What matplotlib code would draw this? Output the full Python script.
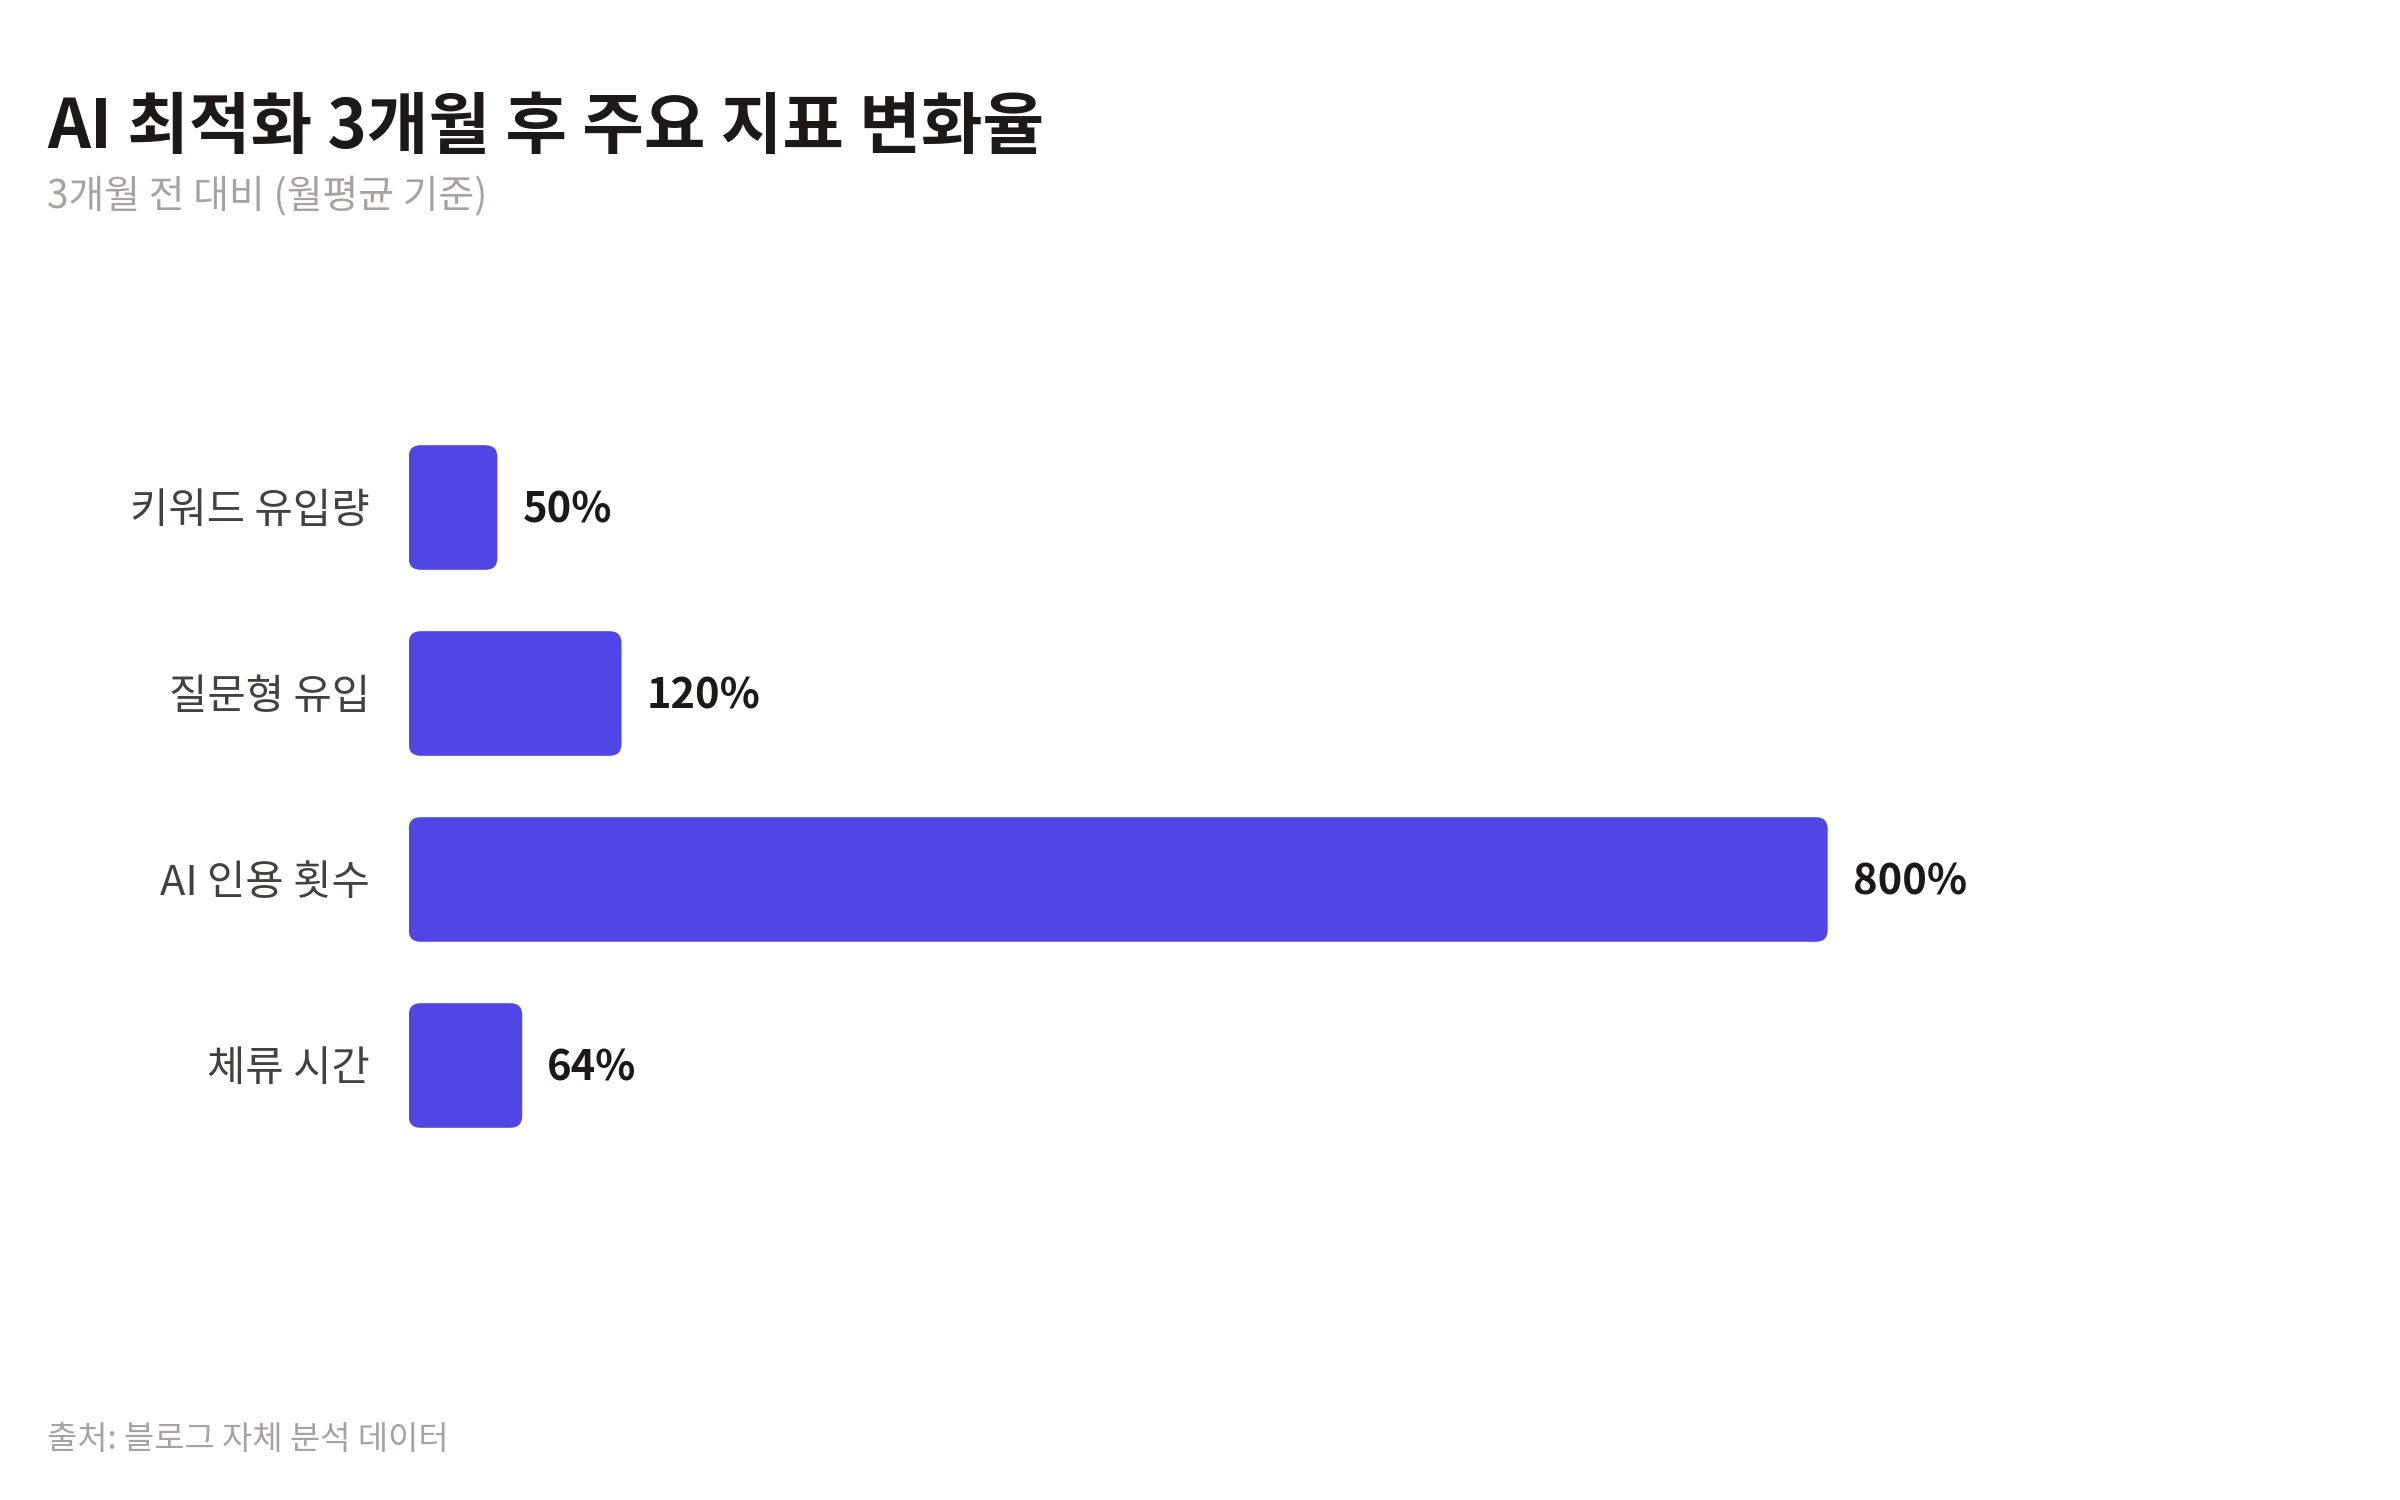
import matplotlib
matplotlib.use('Agg')
import matplotlib.pyplot as plt
from matplotlib.patches import FancyBboxPatch

plt.rcParams['font.family'] = ['Noto Sans CJK KR', 'DejaVu Sans']

# data
categories = ['키워드 유입량', '질문형 유입', 'AI 인용 횟수', '체류 시간']
values = [50, 120, 800, 64]
value_labels = ['50%', '120%', '800%', '64%']

title = 'AI 최적화 3개월 후 주요 지표 변화율'
subtitle = '3개월 전 대비 (월평균 기준)'
source = '출처: 블로그 자체 분석 데이터'

bar_color = '#4F46E5'
dark = '#1c1917'
label_color = '#44403c'
muted = '#a8a29e'

fig = plt.figure(figsize=(24, 15), dpi=100, facecolor='white')
ax = fig.add_axes([408.7 / 2400, 1 - 1158.5 / 1500, 1419 / 2400, 744 / 1500])

ax.set_xlim(0, 800)
ax.set_ylim(len(categories) - 0.5, -0.5)

bar_h = 0.67
px_per_x = 1419 / 800
px_per_y = 744 / len(categories)
aspect = px_per_x / px_per_y
radius = 12 / px_per_x

for i, v in enumerate(values):
    box = FancyBboxPatch((0, i - bar_h / 2), v, bar_h,
                         boxstyle=f'round,pad=0,rounding_size={radius}',
                         mutation_aspect=aspect,
                         facecolor=bar_color, edgecolor='none')
    ax.add_patch(box)
    ax.annotate(value_labels[i], (v, i), xytext=(18, -2), textcoords='offset points',
                ha='left', va='center', fontsize=30, fontweight='bold', color=dark)

ax.set_yticks(range(len(categories)))
ax.set_yticklabels(categories, fontsize=30, color=label_color)
ax.tick_params(axis='y', length=0, pad=27.9)
ax.set_xticks([])
for s in ax.spines.values():
    s.set_visible(False)

fig.text(47 / 2400, 1 - 148 / 1500, title, fontsize=48.2, fontweight='bold', color=dark,
         ha='left', va='baseline')
fig.text(47 / 2400, 1 - 208 / 1500, subtitle, fontsize=28, color=muted,
         ha='left', va='baseline')
fig.text(47 / 2400, 1 - 1449 / 1500, source, fontsize=23.7, color=muted,
         ha='left', va='baseline')

fig.savefig('out.png', dpi=100, facecolor='white')
